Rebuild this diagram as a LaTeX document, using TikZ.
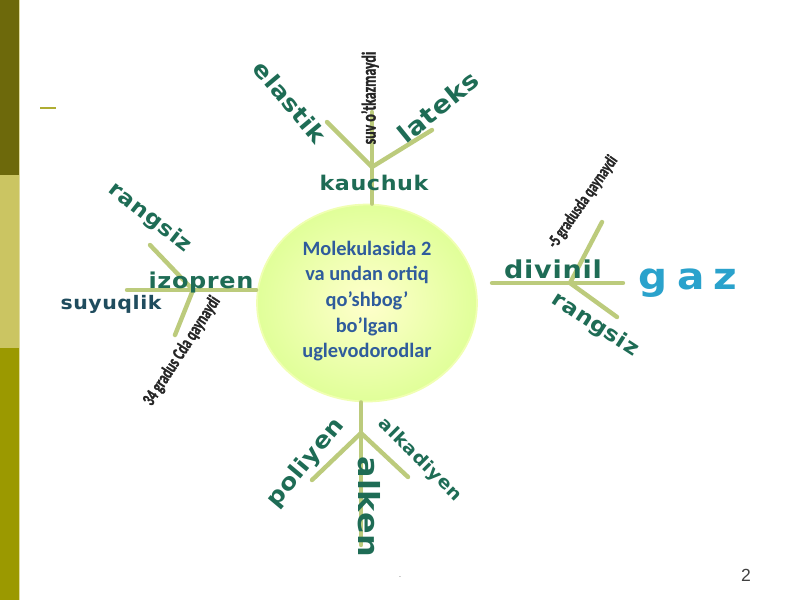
\documentclass[tikz,border=0pt]{standalone}
\usepackage{fontspec}
\usepackage{xcolor}
\usetikzlibrary{calc,positioning,shapes}
\newfontfamily\wordfont[LetterSpace=3,FakeStretch=1.1]{DejaVu Sans}
\newfontfamily\corefont{Carlito}
\newfontfamily\slimfont[FakeStretch=0.7,FakeBold=1.2]{Carlito}
\newfontfamily\pagefont{Liberation Sans}
\definecolor{wordgreen}{HTML}{1E6C55}
\definecolor{wordblue}{HTML}{1F4C5E}
\definecolor{gazblue}{HTML}{2AA2CC}
\definecolor{stemgreen}{HTML}{BCCB7C}
\definecolor{coreblue}{HTML}{2F5C9C}
\definecolor{barA}{HTML}{6D690B}
\definecolor{barB}{HTML}{CBC562}
\definecolor{barC}{HTML}{9B9900}
\tikzset{
	word/.style={font=\wordfont\bfseries\fontsize{#1}{#1}\selectfont, text=wordgreen, inner sep=0pt},
	word/.default=12,
	slim/.style={font=\slimfont\bfseries\fontsize{#1}{#1}\selectfont, text=black!85, inner sep=0pt},
	slim/.default=10,
	stem/.style={line width=2.5pt, stemgreen, line cap=round},
}
\begin{document}
\begin{tikzpicture}[x=0.02cm, y=-0.02cm]
	\useasboundingbox[fill=white] (0, 0) rectangle (800, 600);
	\fill[barA] (0, 0) rectangle (19, 175);
	\fill[barB] (0, 175) rectangle (19, 348);
	\fill[barC] (0, 348) rectangle (19, 600);
	\draw[line width=0.6pt, barB!60] (19.5, 0) -- (19.5, 600);
	\draw[line width=1.2pt, barC!80] (40, 108) -- (56, 108);

	\node[ellipse, minimum width=4.4cm, minimum height=3.94cm, inner sep=0pt,
		inner color=yellow!20!white, outer color=green!30!yellow!40!white, draw=green!20!yellow!30!white, line width=1pt]
		(core) at (367, 303) {};
	\node[font=\corefont\bfseries\fontsize{11.6}{14.6}\selectfont, text=coreblue, align=center]
		(coretext) at (367, 301) {Molekulasida 2\\va undan ortiq\\qo’shbog’\\bo’lgan\\uglevodorodlar};

	\coordinate (ktop) at (372, 112);
	\coordinate (kj) at (372, 167);
	\coordinate (kl) at (327, 122);
	\coordinate (kr) at (432, 130);
	\draw[stem] (ktop |- core.north) -- (ktop);
	\draw[stem] (kj) -- (kl);
	\draw[stem] (kj) -- (kr);
	\node[word=11.5] (kauchuk) at (374, 183) {kauchuk};
	\node[word=13, rotate=-50] (elastik) at (290, 102) {elastik};
	\node[word=14, rotate=39] (lateks) at (438, 107) {lateks};
	\node[slim=11.3, rotate=90] (suv) at (370, 98) {suv o’tkazmaydi};

	\coordinate (iend) at (127, 290);
	\coordinate (ij) at (193, 290);
	\coordinate (iu) at (150, 245);
	\coordinate (id) at (175, 335);
	\draw[stem] (iend) -- (iend -| core.west);
	\draw[stem] (ij) -- (iu);
	\draw[stem] (ij) -- (id);
	\node[word=12.4] (izopren) at (201, 282) {izopren};
	\node[word=10.6, text=wordblue] (suyuqlik) at (111, 304) {suyuqlik};
	\node[word=12, rotate=-38] (rangsizl) at (150, 218) {rangsiz};
	\node[slim=10.5, rotate=57] (gradl) at (182, 351) {34 gradus Cda qaynaydi};

	\coordinate (dstart) at (492, 283);
	\coordinate (dend) at (623, 283);
	\coordinate (dj) at (570, 283);
	\coordinate (du) at (602, 222);
	\coordinate (dd) at (617, 317);
	\draw[stem] (dstart) -- (dend);
	\draw[stem] (dj) -- (du);
	\draw[stem] (dj) -- (dd);
	\node[word=14] (divinil) at (553, 269) {divinil};
	\node[word=21, text=gazblue, font=\wordfont\bfseries\fontsize{21}{21}\selectfont\addfontfeature{LetterSpace=25}] (gaz) at (688, 283) {gaz};
	\node[word=12, rotate=-33] (rangsizr) at (595, 325) {rangsiz};
	\node[slim=10, rotate=55] (gradr) at (583, 202) {-5 gradusda qaynaydi};

	\coordinate (abot) at (361, 545);
	\coordinate (aj) at (361, 433);
	\coordinate (al) at (312, 480);
	\coordinate (ar) at (408, 477);
	\draw[stem] (core.south -| abot) -- (abot);
	\draw[stem] (aj) -- (al);
	\draw[stem] (aj) -- (ar);
	\node[word=16.5, rotate=-90] (alken) at (369, 507) {alken};
	\node[word=13, rotate=50] (poliyen) at (306, 463) {poliyen};
	\node[word=10, rotate=-45] (alkadiyen) at (420, 460) {alkadiyen};

	\node[font=\pagefont\fontsize{10}{10}\selectfont, text=black!75] (page) at (746, 575) {2};
	\node[font=\pagefont\fontsize{5}{5}\selectfont, text=black!50] (dot) at (400, 577) {.};
\end{tikzpicture}
\end{document}
